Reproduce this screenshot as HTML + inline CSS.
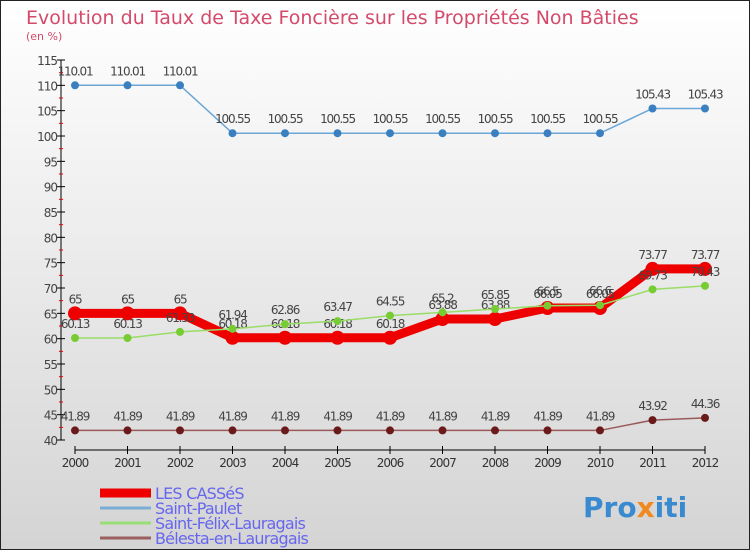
<!DOCTYPE html>
<html><head><meta charset="utf-8"><style>
body{margin:0}
svg{display:block;font-family:"DejaVu Sans","Liberation Sans",sans-serif}
</style></head><body>
<svg id="c" width="750" height="550">
<defs><linearGradient id="bg" x1="0" y1="0" x2="0" y2="1"><stop offset="0" stop-color="#ffffff"/><stop offset="1" stop-color="#d4d4d4"/></linearGradient></defs>
<rect x="0.5" y="0.5" width="749" height="549" fill="url(#bg)" stroke="#222"/>
<text x="26" y="24" font-size="19" fill="#d44a6a">Evolution du Taux de Taxe Foncière sur les Propriétés Non Bâties</text>
<text x="26" y="40" font-size="11" fill="#d44a6a">(en %)</text>
<g id="axes"></g><g id="series"></g><g id="legend"></g>
<text x="583" y="517" font-size="28" font-weight="bold" fill="#3a8ad0">Pro<tspan fill="#f08a20">x</tspan>iti</text>
</svg>
<script>
const years=[2000,2001,2002,2003,2004,2005,2006,2007,2008,2009,2010,2011,2012];
const yTicks=[40,45,50,55,60,65,70,75,80,85,90,95,100,105,110,115];
const lesCasses=[65,65,65,60.18,60.18,60.18,60.18,63.88,63.88,66.05,66.05,73.77,73.77];
const saintPaulet=[110.01,110.01,110.01,100.55,100.55,100.55,100.55,100.55,100.55,100.55,100.55,105.43,105.43];
const saintFelix=[60.13,60.13,61.33,61.94,62.86,63.47,64.55,65.2,65.85,66.5,66.6,69.73,70.43];
const belesta=[41.89,41.89,41.89,41.89,41.89,41.89,41.89,41.89,41.89,41.89,41.89,43.92,44.36];
const NS="http://www.w3.org/2000/svg";
const x=i=>75+i*52.5;
const y=v=>440-(v-40)*(380/75);
function mk(t,a,p){const e=document.createElementNS(NS,t);for(const k in a)e.setAttribute(k,a[k]);if(p)p.appendChild(e);return e;}
const ax=document.getElementById('axes');
let l=mk('line',{x1:61,y1:y(115),x2:61,y2:y(40),stroke:'#000'},ax);


yTicks.forEach(v=>{
 mk('line',{x1:57,x2:65,y1:y(v),y2:y(v),stroke:'#000'},ax);
 if(v<115){const m=mk('line',{x1:59,x2:63,y1:y(v+2.5),y2:y(v+2.5),stroke:'#e00'},ax);}
 const t=mk('text',{x:57,y:y(v)+5,'text-anchor':'end','font-size':12,fill:'#444','letter-spacing':'-1'},ax);
 t.textContent=v;
 
 
});
l=mk('line',{x1:x(0),y1:450,x2:x(12),y2:450,stroke:'#000'},ax);


years.forEach((yr,i)=>{
 mk('line',{x1:x(i),x2:x(i),y1:446,y2:454,stroke:'#000'},ax);
 const t=mk('text',{x:x(i),y:467,'text-anchor':'middle','font-size':12,fill:'#333','letter-spacing':'-1'},ax);
 t.textContent=yr;
 
 
});
const sg=document.getElementById('series');
function draw(vals,col,w,r,dot,name){
 const g=mk('g',{},sg);
 
 
 mk('polyline',{points:vals.map((v,i)=>x(i)+','+y(v)).join(' '),fill:'none',stroke:col,'stroke-width':w,'stroke-linejoin':'round'},g);
 vals.forEach((v,i)=>{
  const c=mk('circle',{cx:x(i),cy:y(v),r:r,fill:dot},g);
  
  
  const t=mk('text',{x:x(i),y:y(v)-10,'text-anchor':'middle','font-size':12,fill:'#444','letter-spacing':'-1.2'},g);
  t.textContent=String(v);
  
  
 });
}
draw(saintPaulet,'#6aa6d6',1.5,4,'#3a80c0','series-saint-paulet');
draw(belesta,'#9a5a5a',1.5,4,'#6a1a1a','series-belesta');
draw(lesCasses,'#ee0000',9,7,'#ee0000','series-les-casses');
draw(saintFelix,'#99dd66',1.5,4,'#77cc33','series-saint-felix');
const lg=document.getElementById('legend');
const items=[['LES CASSéS','#ee0000',9],['Saint-Paulet','#7aaed6',3],['Saint-Félix-Lauragais','#99dd77',3],['Bélesta-en-Lauragais','#9a6060',3]];
items.forEach((it,i)=>{
 const yy=493+i*15;
 const g=mk('g',{},lg);
 
 
 mk('line',{x1:100,x2:151,y1:yy,y2:yy,stroke:it[1],'stroke-width':it[2]},g);
 const t=mk('text',{x:155,y:yy+6,'font-size':16,fill:'#6666ee','letter-spacing':'-0.8'},g);
 t.textContent=it[0];
});
</script>
</body></html>
